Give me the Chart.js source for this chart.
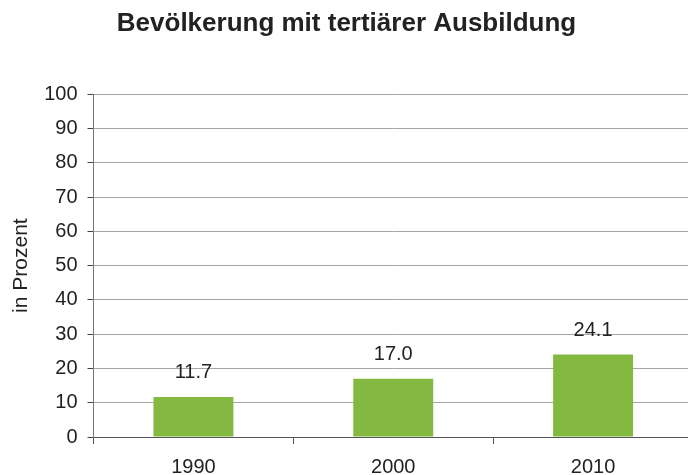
<!DOCTYPE html>
<html>
<head>
<meta charset="utf-8">
<script src="https://cdn.jsdelivr.net/npm/chart.js@4"></script>
<style>
  html, body { margin: 0; padding: 0; background: #fff; overflow: hidden; }
  #wrap { width: 693px; height: 475px; }
</style>
</head>
<body>
<div id="wrap"><canvas id="grafico"></canvas></div>
<script>
const jahre = ["1990", "2000", "2010"];
const anteil = [11.7, 17.0, 24.1];
const yMin = 0;
const yMax = 100;
const yStep = 10;

Chart.defaults.font.family = "'Liberation Sans', Arial, sans-serif";
Chart.defaults.color = "#222";

// Werte über den Balken
const wertLabels = {
    id: "wertLabels",
    afterDatasetsDraw(chart) {
        const c = chart.ctx;
        c.save();
        c.font = "20px 'Liberation Sans', Arial, sans-serif";
        c.fillStyle = "#222";
        c.textAlign = "center";
        c.textBaseline = "middle";
        chart.getDatasetMeta(0).data.forEach(function (bar, i) {
            c.fillText(anteil[i].toFixed(1), bar.x, bar.y - 24);
        });
        c.restore();
    },
};

const ctx = document.getElementById("grafico");
new Chart(ctx, {
    type: "bar",
    data: {
        labels: jahre,
        datasets: [{
            data: anteil,
            backgroundColor: "#83b941",
            borderWidth: 0,
            barPercentage: 0.4,
            categoryPercentage: 1,
        }],
    },
    options: {
        responsive: true,
        maintainAspectRatio: false,
        animation: false,
        layout: { padding: 0 },
        plugins: {
            legend: { display: false },
            tooltip: { enabled: false },
            title: {
                display: true,
                text: "Bevölkerung mit tertiärer Ausbildung",
                font: { size: 26, weight: "bold" },
                color: "#222",
                padding: { top: 8, bottom: 55 },
            },
        },
        scales: {
            x: {
                offset: true,
                afterFit: function (scale) { scale.height = 38; },
                grid: {
                    offset: true,
                    drawOnChartArea: false,
                    drawTicks: true,
                    tickLength: 7,
                    tickColor: "#555",
                },
                border: { color: "#555", width: 1 },
                ticks: { font: { size: 20 }, color: "#222", padding: 11 },
            },
            y: {
                min: yMin,
                max: yMax,
                afterFit: function (scale) { scale.width = 93.5; },
                grid: {
                    color: "#a6a6a6",
                    tickColor: "#444",
                    tickLength: 6,
                },
                border: { color: "#777", width: 1 },
                ticks: { stepSize: yStep, font: { size: 20 }, color: "#222", padding: 10 },
                title: {
                    display: true,
                    text: "in Prozent",
                    font: { size: 21 },
                    color: "#222",
                    padding: { top: 9, bottom: 0 },
                },
            },
        },
    },
    plugins: [wertLabels],
});
</script>
</body>
</html>
